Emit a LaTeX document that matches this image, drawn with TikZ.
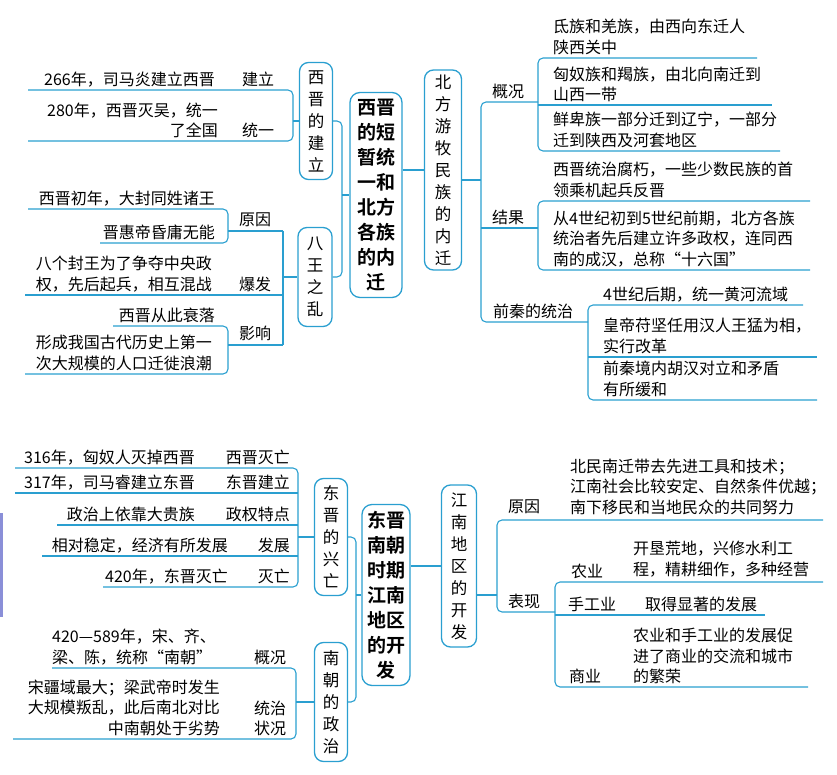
\documentclass[tikz,border=0pt]{standalone}
\usepackage{fontspec}
\setmainfont{Noto Sans CJK SC}[BoldFont=Noto Sans CJK SC Bold]
\definecolor{lineblue}{HTML}{2A9FD0}
\definecolor{edgeviolet}{HTML}{8A8FD8}
\tikzset{
  ln/.style={draw=lineblue, line width=1.1pt, rounded corners=5pt},
  topic/.style={draw=lineblue, line width=1.3pt, rounded corners=9pt, fill=white,
    align=center, inner sep=2pt, font=\fontsize{16.5}{22}\selectfont},
  hub/.style={draw=lineblue, line width=1.3pt, rounded corners=10pt, fill=white,
    align=center, inner sep=3pt, font=\bfseries\fontsize{19}{25}\selectfont},
  txt/.style={inner sep=0pt, font=\fontsize{16}{20.5}\selectfont},
}
\begin{document}
\begin{tikzpicture}[x=1pt,y=-1pt]
  \useasboundingbox (0,0) rectangle (837,775);
  \fill[edgeviolet] (0,513) rectangle (3,617);

  % ---------------- upper half ----------------
  \node[hub, minimum width=52pt, minimum height=205pt] (xijin) at (376,195)
    {西晋\\的短\\暂统\\一和\\北方\\各族\\的内\\迁};
  \node[topic, minimum width=33pt, minimum height=117pt] (jianli) at (316,121)
    {西\\晋\\的\\建\\立};
  \node[topic, minimum width=34pt, minimum height=99pt] (bawang) at (315,277)
    {八\\王\\之\\乱};
  \node[topic, minimum width=37pt, minimum height=200pt] (neiqian) at (443,170)
    {北\\方\\游\\牧\\民\\族\\的\\内\\迁};

  % hub links
  \draw[ln] (jianli.east) -- (342,121) -- (342,277) -- (bawang.east);
  \draw[ln] (342,195) -- (xijin.west);
  \draw[ln] (xijin.east |- 0,170) -- (neiqian.west |- 0,170);

  % 西晋的建立
  \draw[ln] (28,90) -- (293,90) -- (293,141) -- (28,141);
  \draw[ln] (jianli.west) -- (293,121);
  \node[txt, anchor=south east] (t1) at (215,87) {266年，司马炎建立西晋};
  \node[txt, anchor=south] (l1) at (258,87) {建立};
  \node[txt, anchor=south east, align=right] (t2) at (218,138) {280年，西晋灭吴，统一\\了全国};
  \node[txt, anchor=south] (l2) at (258,138) {统一};

  % 八王之乱
  \draw[ln] (28,209) -- (228,209) -- (228,243) -- (100,243);
  \draw[ln] (228,231) -- (283,231);
  \draw[ln] (113,326) -- (228,326) -- (228,374) -- (25,374);
  \draw[ln] (228,345) -- (283,345);
  \draw[ln] (283,231) -- (283,345);
  \draw[ln] (25,295) -- (283,295);
  \draw[ln] (283,277) -- (bawang.west);
  \node[txt, anchor=south east] (t3) at (215,206) {西晋初年，大封同姓诸王};
  \node[txt, anchor=south east] (t4) at (215,240) {晋惠帝昏庸无能};
  \node[txt, anchor=south] (l3) at (255,227) {原因};
  \node[txt, anchor=south east, align=left] (t5) at (212,292) {八个封王为了争夺中央政\\权，先后起兵，相互混战};
  \node[txt, anchor=south] (l4) at (255,292) {爆发};
  \node[txt, anchor=south east] (t6) at (215,323) {西晋从此衰落};
  \node[txt, anchor=south east, align=left] (t7) at (212,371) {形成我国古代历史上第一\\次大规模的人口迁徙浪潮};
  \node[txt, anchor=south] (l5) at (255,341) {影响};

  % 北方游牧民族的内迁
  \draw[ln] (neiqian.east |- 0,180) -- (481,180);
  \draw[ln] (538,102) -- (481,102) -- (481,322) -- (588,322);
  \draw[ln] (481,228) -- (538,228);
  \draw[ln] (757,58) -- (538,58) -- (538,151) -- (780,151);
  \draw[ln] (538,105) -- (772,105);
  \draw[ln] (810,201) -- (538,201) -- (538,270) -- (810,270);
  \draw[ln] (803,305) -- (588,305) -- (588,400) -- (817,400);
  \draw[ln] (588,357) -- (817,357);
  \node[txt, anchor=south] (l6) at (508,99) {概况};
  \node[txt, anchor=south west, align=left] (t8) at (553,55) {氐族和羌族，由西向东迁人\\陕西关中};
  \node[txt, anchor=south west, align=left] (t9) at (553,102) {匈奴族和羯族，由北向南迁到\\山西一带};
  \node[txt, anchor=south west, align=left] (t10) at (553,148) {鲜卑族一部分迁到辽宁，一部分\\迁到陕西及河套地区};
  \node[txt, anchor=south] (l7) at (508,225) {结果};
  \node[txt, anchor=south west, align=left] (t11) at (553,198) {西晋统治腐朽，一些少数民族的首\\领乘机起兵反晋};
  \node[txt, anchor=south west, align=left] (t12) at (553,267) {从4世纪初到5世纪前期，北方各族\\统治者先后建立许多政权，连同西\\南的成汉，总称“十六国”};
  \node[txt, anchor=south] (l8) at (533,319) {前秦的统治};
  \node[txt, anchor=south west] (t13) at (603,302) {4世纪后期，统一黄河流域};
  \node[txt, anchor=south west, align=left] (t14) at (603,354) {皇帝苻坚任用汉人王猛为相，\\实行改革};
  \node[txt, anchor=south west, align=left] (t15) at (603,397) {前秦境内胡汉对立和矛盾\\有所缓和};

  % ---------------- lower half ----------------
  \node[hub, minimum width=48pt, minimum height=181pt] (dongjin) at (386,595)
    {东晋\\南朝\\时期\\江南\\地区\\的开\\发};
  \node[topic, minimum width=33pt, minimum height=117pt] (xingwang) at (331,537)
    {东\\晋\\的\\兴\\亡};
  \node[topic, minimum width=33pt, minimum height=119pt] (zhengzhi) at (331,702)
    {南\\朝\\的\\政\\治};
  \node[topic, minimum width=35pt, minimum height=162pt] (jiangnan) at (459,566)
    {江\\南\\地\\区\\的\\开\\发};

  % hub links
  \draw[ln] (xingwang.east) -- (356,537) -- (356,702) -- (zhengzhi.east);
  \draw[ln] (356,595) -- (dongjin.west);
  \draw[ln] (dongjin.east |- 0,566) -- (jiangnan.west);

  % 东晋的兴亡
  \draw[ln] (15,468) -- (298,468) -- (298,587) -- (103,587);
  \draw[ln] (15,493) -- (298,493);
  \draw[ln] (57,525) -- (298,525);
  \draw[ln] (42,556) -- (298,556);
  \draw[ln] (298,537) -- (xingwang.west);
  \node[txt, anchor=south east] (t16) at (195,465) {316年，匈奴人灭掉西晋};
  \node[txt, anchor=south east] (l9) at (290,465) {西晋灭亡};
  \node[txt, anchor=south east] (t17) at (195,490) {317年，司马睿建立东晋};
  \node[txt, anchor=south east] (l10) at (290,490) {东晋建立};
  \node[txt, anchor=south east] (t18) at (195,522) {政治上依靠大贵族};
  \node[txt, anchor=south east] (l11) at (290,522) {政权特点};
  \node[txt, anchor=south east] (t19) at (228,553) {相对稳定，经济有所发展};
  \node[txt, anchor=south east] (l12) at (290,553) {发展};
  \node[txt, anchor=south east] (t20) at (228,584) {420年，东晋灭亡};
  \node[txt, anchor=south east] (l13) at (290,584) {灭亡};

  % 南朝的政治
  \draw[ln] (52,668) -- (296,668) -- (296,739) -- (13,739);
  \draw[ln] (296,702) -- (zhengzhi.west);
  \node[txt, anchor=south west, align=left] (t21) at (52,665) {420—589年，宋、齐、\\梁、陈，统称“南朝”};
  \node[txt, anchor=south] (l14) at (270,665) {概况};
  \node[txt, anchor=south east, align=right] (t22) at (220,736) {宋疆域最大；梁武帝时发生\\大规模叛乱，此后南北对比\\中南朝处于劣势};
  \node[txt, anchor=south, align=center] (l15) at (270,736) {统治\\状况};

  % 江南地区的开发
  \draw[ln] (jiangnan.east |- 0,595) -- (497,595);
  \draw[ln] (823,520) -- (497,520) -- (497,612) -- (555,612);
  \draw[ln] (823,582) -- (555,582) -- (555,687) -- (808,687);
  \draw[ln] (555,615) -- (765,615);
  \node[txt, anchor=south] (l16) at (524,514) {原因};
  \node[txt, anchor=south west, align=left] (t23) at (570,515) {北民南迁带去先进工具和技术；\\江南社会比较安定、自然条件优越；\\南下移民和当地民众的共同努力};
  \node[txt, anchor=south] (l17) at (524,609) {表现};
  \node[txt, anchor=south] (l18) at (587,579) {农业};
  \node[txt, anchor=south west, align=left] (t24) at (633,577) {开垦荒地，兴修水利工\\程，精耕细作，多种经营};
  \node[txt, anchor=south] (l19) at (592,612) {手工业};
  \node[txt, anchor=south west] (t25) at (645,612) {取得显著的发展};
  \node[txt, anchor=south] (l20) at (585,684) {商业};
  \node[txt, anchor=south west, align=left] (t26) at (633,684) {农业和手工业的发展促\\进了商业的交流和城市\\的繁荣};
\end{tikzpicture}
\end{document}
